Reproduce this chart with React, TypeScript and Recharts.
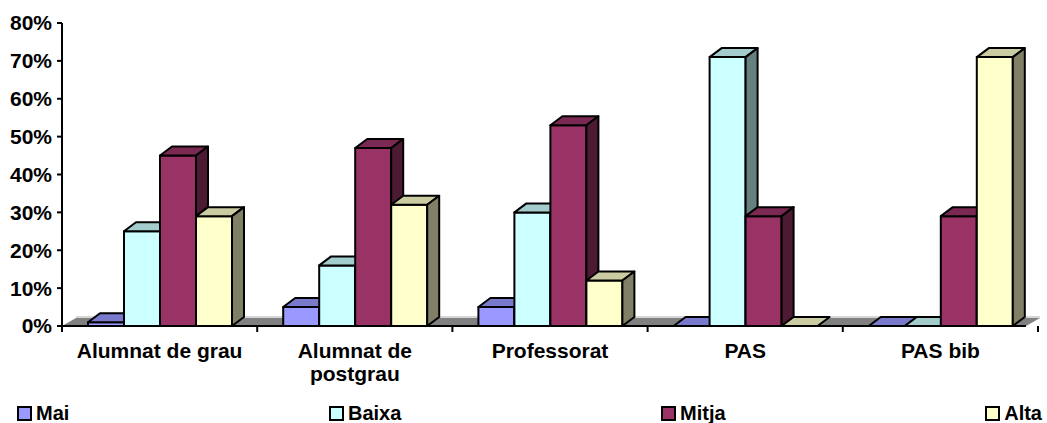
import { BarChart, Bar, XAxis, YAxis, Legend, Customized } from "recharts"

const categories = ["Alumnat de grau", "Alumnat de postgrau", "Professorat", "PAS", "PAS bib"]
const mai = [1, 5, 5, 0, 0]
const baixa = [25, 16, 30, 71, 0]
const mitja = [45, 47, 53, 29, 29]
const alta = [29, 32, 12, 0, 71]
const yTicks = [0, 10, 20, 30, 40, 50, 60, 70, 80]

const series = [
  { key: "mai", name: "Mai", front: "#9999FF", top: "#7A7ACC", side: "#4D4D80" },
  { key: "baixa", name: "Baixa", front: "#CCFFFF", top: "#A3CCCC", side: "#668080" },
  { key: "mitja", name: "Mitja", front: "#993366", top: "#7A2952", side: "#4D1A33" },
  { key: "alta", name: "Alta", front: "#FFFFCC", top: "#CCCCA3", side: "#808066" },
]

const data = categories.map((name, i) => ({
  name,
  mai: mai[i],
  baixa: baixa[i],
  mitja: mitja[i],
  alta: alta[i],
}))

const W = 1047
const H = 423
const LEFT = 62
const RIGHT = 9
const TOP = 23
const BASE = 326
const PLOT_W = W - LEFT - RIGHT
const BAND = PLOT_W / categories.length
const DX = 12
const DY = 9
const FONT = "'Liberation Sans', Arial, sans-serif"

// break long category names the way excel wrapped them
function wrap(label: string, maxChars = 15) {
  const lines: string[] = []
  let cur = ""
  for (const w of label.split(" ")) {
    const next = cur ? cur + " " + w : w
    if (next.length > maxChars && cur) {
      lines.push(cur)
      cur = w
    } else {
      cur = next
    }
  }
  if (cur) lines.push(cur)
  return lines
}

function Box3D(props: any) {
  const { x, y, width, height, front, top, side } = props
  const h = Math.max(height || 0, 0)
  return (
    <g stroke="#000" strokeWidth={2} strokeLinejoin="round">
      {h > 0 && <rect x={x} y={y} width={width} height={h} fill={front} />}
      <polygon
        points={`${x},${y} ${x + DX},${y - DY} ${x + width + DX},${y - DY} ${x + width},${y}`}
        fill={top}
      />
      {h > 0 && (
        <polygon
          points={`${x + width},${y} ${x + width + DX},${y - DY} ${x + width + DX},${y + h - DY} ${x + width},${y + h}`}
          fill={side}
        />
      )}
    </g>
  )
}

function Floor() {
  const x0 = LEFT
  const x1 = LEFT + PLOT_W - 12
  return (
    <g>
      <polygon
        points={`${x0},${BASE} ${x1},${BASE} ${x1 + 14},${BASE - 8} ${x0 + 14},${BASE - 8}`}
        fill="#808080"
      />
      <line x1={x0 + 14} y1={BASE - 9} x2={x1 + 14} y2={BASE - 9} stroke="#C8C8C8" strokeWidth={1.5} />
      <line x1={x0} y1={BASE} x2={x1} y2={BASE} stroke="#000" strokeWidth={2} />
    </g>
  )
}

function CategoryTick(props: any) {
  const { x, payload, index } = props
  const left = x - BAND / 2
  const lines = wrap(String(payload.value))
  return (
    <g>
      <line x1={left} y1={BASE} x2={left} y2={BASE + 6} stroke="#000" strokeWidth={2} />
      {index === categories.length - 1 && (
        <line x1={x + BAND / 2} y1={BASE} x2={x + BAND / 2} y2={BASE + 6} stroke="#000" strokeWidth={2} />
      )}
      <text
        textAnchor="middle"
        fontSize={21}
        fontWeight="bold"
        fontFamily={FONT}
        fill="#000"
      >
        {lines.map((l, i) => (
          <tspan key={i} x={x} y={BASE + 32 + i * 22.5}>
            {l}
          </tspan>
        ))}
      </text>
    </g>
  )
}

function LegendBox() {
  return (
    <div
      style={{
        display: "flex",
        justifyContent: "space-between",
        alignItems: "center",
        height: 28,
        padding: "8px 5px 0 17px",
        boxSizing: "border-box",
        fontFamily: FONT,
        fontWeight: "bold",
        fontSize: 20,
        color: "#000",
      }}
    >
      {series.map((s) => (
        <div key={s.key} style={{ display: "flex", alignItems: "center" }}>
          <span
            style={{
              display: "inline-block",
              width: 11,
              height: 11,
              border: "2px solid #000",
              background: s.front,
              marginRight: 4,
            }}
          />
          <span>{s.name}</span>
        </div>
      ))}
    </div>
  )
}

export default function App() {
  return (
    <div style={{ position: "absolute", left: 0, top: 0, width: W, height: H, background: "#fff" }}>
      <BarChart
        width={W}
        height={H}
        data={data}
        margin={{ top: TOP, right: RIGHT, bottom: 0, left: 0 }}
        barCategoryGap={26}
        barGap={0}
      >
        <Customized component={<Floor />} />
        <XAxis
          dataKey="name"
          axisLine={false}
          tickLine={false}
          tickSize={0}
          tickMargin={0}
          height={69}
          interval={0}
          tick={<CategoryTick />}
        />
        <YAxis
          domain={[0, 80]}
          ticks={yTicks}
          width={LEFT}
          tickFormatter={(v: number) => `${v}%`}
          axisLine={{ stroke: "#000", strokeWidth: 2 }}
          tickLine={{ stroke: "#000", strokeWidth: 2 }}
          tickSize={5}
          tickMargin={5}
          tick={{ fill: "#000", fontSize: 21, fontWeight: "bold", fontFamily: FONT }}
        />
        <Legend
          verticalAlign="bottom"
          content={<LegendBox />}
          wrapperStyle={{ width: W, left: 0, height: 28 }}
        />
        {series.map((s) => (
          <Bar
            key={s.key}
            dataKey={s.key}
            name={s.name}
            fill={s.front}
            isAnimationActive={false}
            shape={(p: any) => <Box3D {...p} front={s.front} top={s.top} side={s.side} />}
          />
        ))}
      </BarChart>
    </div>
  )
}
